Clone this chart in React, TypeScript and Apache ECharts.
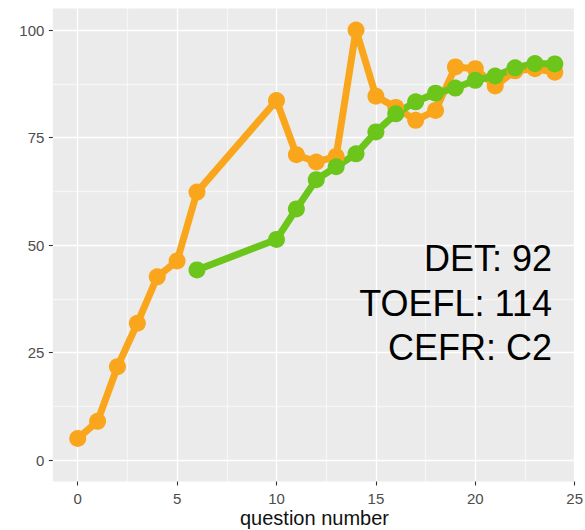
import React, { useEffect, useRef } from "react";
import * as echarts from "echarts";

// ---- data ----
const orangeQ = [0, 1, 2, 3, 4, 5, 6, 10, 11, 12, 13, 14, 15, 16, 17, 18, 19, 20, 21, 22, 23, 24];
const orangeScore = [5, 9, 21.7, 31.8, 42.6, 46.3, 62.3, 83.6, 71, 69.3, 70.6, 100, 84.6, 82, 79, 81.3, 91.4, 91, 87, 90.5, 91, 90.2];
const greenQ = [6, 10, 11, 12, 13, 14, 15, 16, 17, 18, 19, 20, 21, 22, 23, 24];
const greenScore = [44.2, 51.3, 58.4, 65.2, 68.2, 71.2, 76.3, 80.5, 83.3, 85.3, 86.5, 88.3, 89.3, 91.2, 92.2, 92.1];
const xTicks = [0, 5, 10, 15, 20, 25];
const yTicks = [0, 25, 50, 75, 100];
const annotationLines = ["DET: 92", "TOEFL: 114", "CEFR: C2"];
const xTitle = "question number";

const ORANGE = "#F9A61C";
const GREEN = "#6CC51A";
const FONT = "'Liberation Sans', Arial, Helvetica, sans-serif";

export default function App() {
  const ref = useRef<HTMLDivElement>(null);

  useEffect(() => {
    if (!ref.current) return;
    const chart = echarts.init(ref.current, undefined, { renderer: "svg" });

    const T = "rgba(0,0,0,0)";
    const MAJ = "#FFFFFF";
    const MIN = "rgba(255,255,255,0.55)";
    // x panel axis: min -1.25, interval 1.25 -> index1 = 0 (major), index3 = 2.5 (minor)
    const xColors = [T, MAJ, T, MIN];
    // y panel axis: min -5, interval 2.5 -> index2 = 0 (major), index7 = 12.5 (minor)
    const yColors = [T, T, MAJ, T, T, T, T, MIN, T, T];

    const xStep = xTicks[1] - xTicks[0];
    const yStep = yTicks[1] - yTicks[0];

    const option: any = {
      animation: false,
      backgroundColor: "#FFFFFF",
      grid: [
        {
          left: 52.85,
          right: 10.3,
          top: 8.5,
          bottom: 48.5,
          show: true,
          backgroundColor: "#EBEBEB",
          borderWidth: 0,
          containLabel: false,
          outerBoundsMode: "none",
        },
        {
          left: 77.7,
          right: 10.3,
          top: 30,
          bottom: 70,
          show: false,
          containLabel: false,
          outerBoundsMode: "none",
        },
      ],
      xAxis: [
        {
          gridIndex: 0,
          type: "value",
          min: -1.25,
          max: xTicks[xTicks.length - 1],
          interval: 1.25,
          axisLine: { show: false, onZero: false },
          axisTick: { show: false },
          axisLabel: { show: false },
          splitLine: { show: true, lineStyle: { color: xColors, width: 1.3 } },
        },
        {
          gridIndex: 1,
          type: "value",
          min: xTicks[0],
          max: xTicks[xTicks.length - 1],
          interval: xStep,
          offset: 21.5,
          axisLine: { show: false, onZero: false },
          axisTick: { show: true, length: 4, lineStyle: { color: "#333333", width: 1.1 } },
          axisLabel: { show: true, margin: 9, color: "#4D4D4D", fontSize: 15, fontFamily: FONT },
          splitLine: { show: false },
        },
      ],
      yAxis: [
        {
          gridIndex: 0,
          type: "value",
          min: -5,
          max: 105,
          interval: 2.5,
          axisLine: { show: false, onZero: false },
          axisTick: { show: false },
          axisLabel: { show: false },
          splitLine: { show: true, lineStyle: { color: yColors, width: 1.3 } },
        },
        {
          gridIndex: 1,
          type: "value",
          min: yTicks[0],
          max: yTicks[yTicks.length - 1],
          interval: yStep,
          offset: 24.85,
          axisLine: { show: false, onZero: false },
          axisTick: { show: true, length: 4, lineStyle: { color: "#333333", width: 1.1 } },
          axisLabel: { show: true, margin: 8.5, color: "#4D4D4D", fontSize: 15, fontFamily: FONT },
          splitLine: { show: false },
        },
      ],
      series: [
        {
          type: "line",
          xAxisIndex: 0,
          yAxisIndex: 0,
          data: orangeQ.map((q, i) => [q, orangeScore[i]]),
          symbol: "circle",
          symbolSize: 17,
          showSymbol: true,
          lineStyle: { color: ORANGE, width: 7, cap: "round", join: "round" },
          itemStyle: { color: ORANGE },
          emphasis: { disabled: true },
          silent: true,
        },
        {
          type: "line",
          xAxisIndex: 0,
          yAxisIndex: 0,
          data: greenQ.map((q, i) => [q, greenScore[i]]),
          symbol: "circle",
          symbolSize: 17,
          showSymbol: true,
          lineStyle: { color: GREEN, width: 7, cap: "round", join: "round" },
          itemStyle: { color: GREEN },
          emphasis: { disabled: true },
          silent: true,
        },
      ],
      graphic: [
        ...annotationLines.map((t, i) => ({
          type: "text",
          right: 585 - 552,
          top: 245 + i * 44.5 - 4.5,
          style: {
            text: t,
            fill: "#000000",
            fontSize: 36,
            fontFamily: FONT,
            align: "right",
          },
          z: 100,
        })),
        {
          type: "text",
          left: 240,
          top: 508,
          style: {
            text: xTitle,
            fill: "#111111",
            fontSize: 20,
            fontFamily: FONT,
          },
          z: 100,
        },
      ],
    };

    chart.setOption(option);
    return () => chart.dispose();
  }, []);

  return (
    <div
      ref={ref}
      style={{ position: "fixed", left: 0, top: 0, width: 585, height: 530 }}
    />
  );
}
